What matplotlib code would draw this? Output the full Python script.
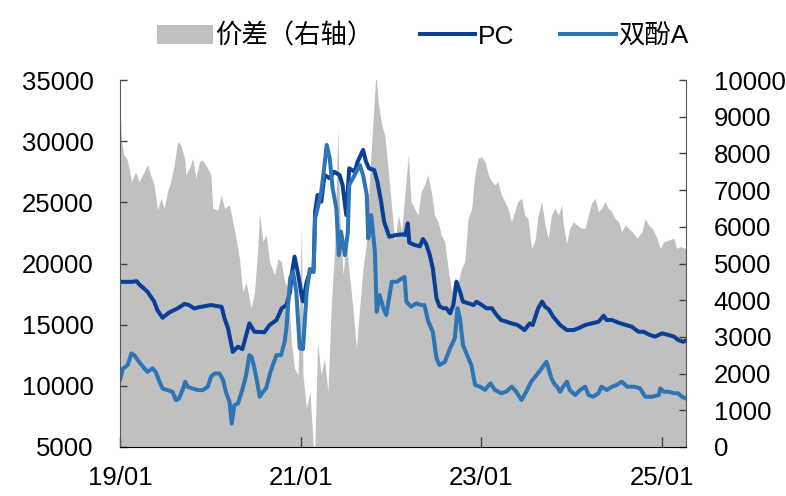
import matplotlib
matplotlib.use("Agg")
import matplotlib.pyplot as plt
from matplotlib.patches import Patch
from matplotlib.lines import Line2D
import pandas as pd

plt.rcParams['font.family'] = ['Liberation Sans', 'Noto Sans CJK SC', 'DejaVu Sans']

# ---------------- data ----------------
pc_dates = [
    "2019-01-01", "2019-02-16", "2019-03-10", "2019-03-19", "2019-04-22", "2019-05-19", "2019-06-01",
    "2019-06-22", "2019-07-19", "2019-08-22", "2019-09-19", "2019-10-07", "2019-10-28", "2019-11-25",
    "2020-01-04", "2020-02-16", "2020-02-28", "2020-03-13", "2020-04-01", "2020-04-22", "2020-05-10",
    "2020-06-07", "2020-06-28", "2020-07-19", "2020-08-07", "2020-08-28", "2020-09-25", "2020-10-16",
    "2020-11-04", "2020-11-19", "2020-11-25", "2020-12-07", "2020-12-22", "2021-01-04", "2021-01-10",
    "2021-01-25", "2021-02-07", "2021-02-22", "2021-02-28", "2021-03-10", "2021-03-25", "2021-04-07",
    "2021-04-28", "2021-05-16", "2021-06-07", "2021-06-19", "2021-07-04", "2021-07-16", "2021-08-07",
    "2021-08-19", "2021-09-10", "2021-09-22", "2021-10-04", "2021-10-25", "2021-11-07", "2021-11-22",
    "2021-12-04", "2021-12-25", "2022-01-22", "2022-02-19", "2022-02-28", "2022-03-10", "2022-03-16",
    "2022-04-07", "2022-04-28", "2022-05-10", "2022-05-23", "2022-06-07", "2022-06-19", "2022-07-04",
    "2022-07-16", "2022-08-01", "2022-08-13", "2022-08-28", "2022-09-10", "2022-09-23", "2022-10-07",
    "2022-10-19", "2022-11-10", "2022-12-01", "2022-12-13", "2023-01-04", "2023-01-22", "2023-02-13",
    "2023-03-04", "2023-03-22", "2023-04-13", "2023-05-04", "2023-05-28", "2023-06-25", "2023-07-16",
    "2023-07-28", "2023-08-19", "2023-09-04", "2023-09-16", "2023-10-01", "2023-10-19", "2023-11-16",
    "2023-12-13", "2024-01-10", "2024-01-28", "2024-02-25", "2024-03-22", "2024-04-19", "2024-05-10",
    "2024-05-22", "2024-06-13", "2024-07-10", "2024-08-04", "2024-09-01", "2024-09-28", "2024-10-19",
    "2024-11-08", "2024-12-04", "2025-01-01", "2025-01-28", "2025-02-19", "2025-03-07", "2025-03-28",
    "2025-04-06",
]
pc_values = [
    18500, 18500, 18550, 18300, 17700, 16900, 16200,
    15560, 16000, 16330, 16700, 16600, 16330, 16460,
    16600, 16460, 15500, 14700, 12780, 13200, 13000,
    15100, 14420, 14400, 14380, 14970, 15380, 16340,
    16600, 17700, 19060, 20560, 19060, 17420, 16900,
    18510, 19300, 19560, 24230, 25600, 25050, 27230,
    26970, 27500, 27230, 26420, 23960, 27780, 27500,
    28320, 29280, 28320, 27780, 27640, 26690, 25050,
    23420, 22190, 22330, 22380, 22330, 23290, 21700,
    21510, 21400, 22000, 21600, 20690, 19600, 17150,
    16500, 16340, 16340, 15930, 16600, 18510, 17700,
    16880, 16750, 16600, 16880, 16600, 16340, 16340,
    15790, 15380, 15240, 15100, 14970, 14560, 15100,
    14970, 16330, 16880, 16470, 16250, 15650, 14970,
    14560, 14560, 14700, 14970, 15100, 15240, 15730,
    15380, 15380, 15150, 15000, 14830, 14420, 14420,
    14200, 14020, 14290, 14150, 14020, 13750, 13600,
    13680,
]

bpa_dates = [
    "2019-01-01", "2019-01-13", "2019-02-01", "2019-02-16", "2019-02-28", "2019-03-19", "2019-04-10",
    "2019-04-22", "2019-05-13", "2019-05-25", "2019-06-10", "2019-06-22", "2019-07-13", "2019-08-01",
    "2019-08-16", "2019-08-28", "2019-09-13", "2019-09-22", "2019-10-01", "2019-10-22", "2019-11-13",
    "2019-12-01", "2019-12-22", "2020-01-04", "2020-01-19", "2020-02-07", "2020-02-22", "2020-03-04",
    "2020-03-19", "2020-03-28", "2020-04-07", "2020-04-22", "2020-05-11", "2020-05-25", "2020-06-07",
    "2020-06-16", "2020-06-28", "2020-07-11", "2020-07-19", "2020-08-01", "2020-08-14", "2020-08-28",
    "2020-09-10", "2020-09-25", "2020-10-13", "2020-10-28", "2020-11-04", "2020-11-19", "2020-12-01",
    "2020-12-14", "2020-12-28", "2021-01-10", "2021-01-25", "2021-02-07", "2021-02-22", "2021-02-28",
    "2021-03-10", "2021-03-25", "2021-04-07", "2021-04-16", "2021-04-28", "2021-05-10", "2021-05-25",
    "2021-06-04", "2021-06-13", "2021-06-28", "2021-07-10", "2021-07-16", "2021-08-07", "2021-08-28",
    "2021-09-10", "2021-09-25", "2021-10-01", "2021-10-13", "2021-10-28", "2021-11-04", "2021-11-16",
    "2021-12-01", "2021-12-13", "2022-01-04", "2022-01-25", "2022-02-13", "2022-02-25", "2022-03-04",
    "2022-03-23", "2022-04-13", "2022-05-04", "2022-05-16", "2022-06-01", "2022-06-19", "2022-07-04",
    "2022-07-16", "2022-08-07", "2022-08-28", "2022-09-16", "2022-09-27", "2022-10-07", "2022-10-19",
    "2022-11-10", "2022-11-22", "2022-12-07", "2022-12-26", "2023-01-16", "2023-02-07", "2023-02-25",
    "2023-03-22", "2023-04-13", "2023-05-04", "2023-05-22", "2023-06-13", "2023-07-02", "2023-07-22",
    "2023-08-13", "2023-09-02", "2023-09-22", "2023-10-12", "2023-10-26", "2023-11-01", "2023-11-16",
    "2023-11-28", "2023-12-13", "2023-12-25", "2024-01-16", "2024-02-05", "2024-02-25", "2024-03-10",
    "2024-03-28", "2024-04-19", "2024-05-01", "2024-05-22", "2024-06-13", "2024-07-01", "2024-07-22",
    "2024-08-13", "2024-09-10", "2024-10-04", "2024-10-25", "2024-11-22", "2024-12-19", "2024-12-25",
    "2025-01-08", "2025-01-28", "2025-02-19", "2025-03-07", "2025-03-22", "2025-04-06",
]
bpa_values = [
    10500, 11420, 11690, 12650, 12500, 11960, 11420,
    11150, 11420, 11150, 10330, 9780, 9650, 9510,
    8830, 8970, 9780, 10330, 9920, 9780, 9650,
    9650, 9920, 10740, 11010, 11010, 10470, 9510,
    8690, 6920, 8420, 8560, 9780, 10870, 12510,
    12370, 11420, 10060, 9100, 9510, 9800, 10890,
    11700, 12520, 12500, 13610, 14700, 18790, 19300,
    17700, 13070, 13000, 17700, 19560, 19300, 23690,
    24500, 25870, 28050, 29690, 28600, 26150, 24500,
    20690, 22600, 20690, 22460, 26420, 27230, 28050,
    27230, 25600, 22050, 23960, 20960, 16060, 17420,
    16340, 15790, 18510, 18510, 18780, 18900, 16880,
    16470, 16740, 16600, 16600, 15240, 14420, 12250,
    11700, 11970, 13070, 13890, 16340, 15520, 13340,
    12250, 11700, 10070, 9940, 9670, 10210, 9670,
    9390, 9530, 9940, 9530, 8840, 9530, 10350,
    10890, 11430, 11970, 10600, 10070, 10000, 9520,
    9930, 10340, 9660, 9250, 9660, 9930, 9250,
    9110, 9390, 9930, 9660, 9930, 10070, 10340,
    9930, 9930, 9800, 9110, 9110, 9250, 9790,
    9520, 9520, 9390, 9390, 9110, 8980,
]

spread_dates = [
    "2019-01-01", "2019-01-08", "2019-01-16", "2019-01-28", "2019-02-07", "2019-02-16", "2019-03-05",
    "2019-03-19", "2019-04-02", "2019-04-22", "2019-05-05", "2019-05-19", "2019-06-02", "2019-06-16",
    "2019-06-28", "2019-07-12", "2019-07-25", "2019-08-08", "2019-08-22", "2019-09-04", "2019-09-19",
    "2019-09-25", "2019-10-08", "2019-10-22", "2019-11-04", "2019-11-19", "2019-12-01", "2019-12-22",
    "2020-01-04", "2020-01-11", "2020-02-01", "2020-02-14", "2020-02-28", "2020-03-18", "2020-04-01",
    "2020-04-14", "2020-04-28", "2020-05-11", "2020-05-25", "2020-06-14", "2020-06-28", "2020-07-11",
    "2020-07-18", "2020-08-01", "2020-08-14", "2020-08-28", "2020-09-17", "2020-10-01", "2020-10-14",
    "2020-10-28", "2020-11-11", "2020-11-24", "2020-12-07", "2020-12-21", "2021-01-04", "2021-01-10",
    "2021-01-24", "2021-02-07", "2021-02-21", "2021-02-27", "2021-03-10", "2021-03-24", "2021-04-07",
    "2021-04-21", "2021-05-04", "2021-05-18", "2021-05-31", "2021-06-07", "2021-06-21", "2021-07-04",
    "2021-07-17", "2021-07-31", "2021-08-14", "2021-08-27", "2021-09-10", "2021-09-24", "2021-10-07",
    "2021-10-20", "2021-11-01", "2021-11-10", "2021-11-24", "2021-12-07", "2021-12-20", "2022-01-04",
    "2022-01-17", "2022-01-31", "2022-02-13", "2022-02-27", "2022-03-12", "2022-03-23", "2022-04-06",
    "2022-04-20", "2022-05-03", "2022-05-17", "2022-05-30", "2022-06-13", "2022-06-26", "2022-07-10",
    "2022-07-23", "2022-08-06", "2022-08-20", "2022-09-03", "2022-09-16", "2022-09-30", "2022-10-13",
    "2022-10-26", "2022-11-09", "2022-11-23", "2022-12-06", "2022-12-19", "2023-01-03", "2023-01-16",
    "2023-01-30", "2023-02-13", "2023-02-26", "2023-03-09", "2023-03-23", "2023-04-06", "2023-04-19",
    "2023-05-03", "2023-05-16", "2023-05-29", "2023-06-13", "2023-06-26", "2023-07-09", "2023-07-23",
    "2023-08-06", "2023-08-19", "2023-09-02", "2023-09-16", "2023-09-29", "2023-10-12", "2023-10-26",
    "2023-11-09", "2023-11-22", "2023-11-29", "2023-12-12", "2023-12-25", "2024-01-09", "2024-01-22",
    "2024-02-12", "2024-02-25", "2024-03-09", "2024-03-22", "2024-04-05", "2024-04-19", "2024-05-02",
    "2024-05-15", "2024-05-29", "2024-06-12", "2024-06-25", "2024-07-09", "2024-07-22", "2024-08-05",
    "2024-08-19", "2024-09-02", "2024-09-22", "2024-10-12", "2024-10-25", "2024-11-08", "2024-11-22",
    "2024-12-12", "2024-12-25", "2025-01-08", "2025-01-28", "2025-02-18", "2025-03-01", "2025-03-15",
    "2025-04-06",
]
spread_values = [
    9140, 8320, 7960, 7870, 7590, 7230, 7500,
    7230, 7410, 7690, 7410, 7140, 6460, 6780,
    6500, 6960, 7230, 7690, 8320, 8230, 7870,
    7410, 7590, 7870, 7320, 7780, 7820, 7590,
    7410, 6500, 6460, 6870, 6500, 6600, 6140,
    5690, 5140, 4230, 4500, 3780, 4230, 5410,
    6370, 5600, 5780, 5050, 4690, 5140, 5050,
    4500, 4320, 2870, 2140, 1960, 6050, 1960,
    1050, 1510, 0, 0, 2870, 1960, 2420,
    1510, 3780, 5410, 8680, 6500, 4690, 5600,
    4690, 3780, 2690, 3780, 4870, 5600, 7410,
    8870, 10200, 9410, 8780, 8500, 7590, 6500,
    5600, 6320, 5870, 6960, 7960, 6690, 6500,
    6320, 6960, 7140, 7410, 6960, 6320, 6140,
    5780, 5600, 4870, 4230, 4600, 4500, 4870,
    5050, 6230, 6500, 7410, 7870, 7910, 7780,
    7410, 7230, 7140, 7230, 6870, 6690, 6500,
    6140, 6410, 6690, 6780, 6320, 6230, 5410,
    5600, 6320, 6690, 6050, 5690, 6320, 6500,
    6320, 6600, 6050, 5550, 5960, 6140, 6050,
    5960, 5960, 6320, 6640, 6780, 6410, 6500,
    6690, 6500, 6410, 6230, 6140, 5870, 6050,
    5960, 5870, 5690, 5870, 6230, 6050, 5960,
    5690, 5410, 5600, 5640, 5690, 5410, 5460,
    5410,
]

legend_labels = ["价差（右轴）", "PC", "双酚A"]
x_tick_dates = ["2019-01-01", "2021-01-01", "2023-01-01", "2025-01-01"]
x_tick_labels = ["19/01", "21/01", "23/01", "25/01"]
left_ticks = [5000, 10000, 15000, 20000, 25000, 30000, 35000]
right_ticks = [0, 1000, 2000, 3000, 4000, 5000, 6000, 7000, 8000, 9000, 10000]

# ---------------- plot ----------------
gray = "#C0C0C0"
pc_color = "#0A3F96"
bpa_color = "#2E75B6"

fig = plt.figure(figsize=(7.86, 4.96), dpi=100)
ax = fig.add_axes([120 / 786, 1 - 447 / 496, (686 - 120) / 786, (447 - 80) / 496])
ax2 = ax.twinx()

ax2.fill_between(pd.to_datetime(spread_dates), 0, spread_values, color=gray, linewidth=0)

ax.plot(pd.to_datetime(pc_dates), pc_values, color=pc_color, lw=2.9, solid_joinstyle='round')
ax.plot(pd.to_datetime(bpa_dates), bpa_values, color=bpa_color, lw=2.9, solid_joinstyle='round')

ax.set_zorder(ax2.get_zorder() + 1)
ax.patch.set_visible(False)

ax.set_xlim(pd.Timestamp("2019-01-01"), pd.Timestamp("2025-04-08"))
ax.set_ylim(5000, 35000)
ax2.set_ylim(0, 10000)

ax.set_yticks(left_ticks)
ax.set_yticklabels([str(v) for v in left_ticks])
ax2.set_yticks(right_ticks)
ax2.set_yticklabels([str(v) for v in right_ticks])
ax.set_xticks(pd.to_datetime(x_tick_dates))
ax.set_xticklabels(x_tick_labels)

fs = 18.5
tick_col = "#404040"
ax.tick_params(axis='y', direction='in', length=5, width=1, color=tick_col, labelsize=fs, pad=19)
ax.tick_params(axis='x', direction='in', length=7, width=1, color=tick_col, labelsize=fs, pad=14)
ax2.tick_params(axis='y', direction='in', length=5, width=1, color=tick_col, labelsize=fs, pad=20)

for s in ['top', 'right']:
    ax.spines[s].set_visible(False)
for s in ['top', 'left', 'bottom']:
    ax2.spines[s].set_visible(False)
ax.spines['left'].set_color("#595959")
ax.spines['bottom'].set_color("#000000")
ax2.spines['right'].set_color("#595959")

handles = [
    Patch(facecolor=gray, edgecolor='none'),
    Line2D([], [], color=pc_color, lw=2.9),
    Line2D([], [], color=bpa_color, lw=2.9),
]
fig.legend(handles, legend_labels, loc='center', bbox_to_anchor=(423 / 786, 1 - 36 / 496),
           ncol=3, frameon=False, handlelength=2.1, handletextpad=0.1, columnspacing=1.75,
           prop={'family': ['Liberation Sans', 'Noto Sans CJK SC'], 'size': 19})

fig.savefig("out.png", dpi=100)
